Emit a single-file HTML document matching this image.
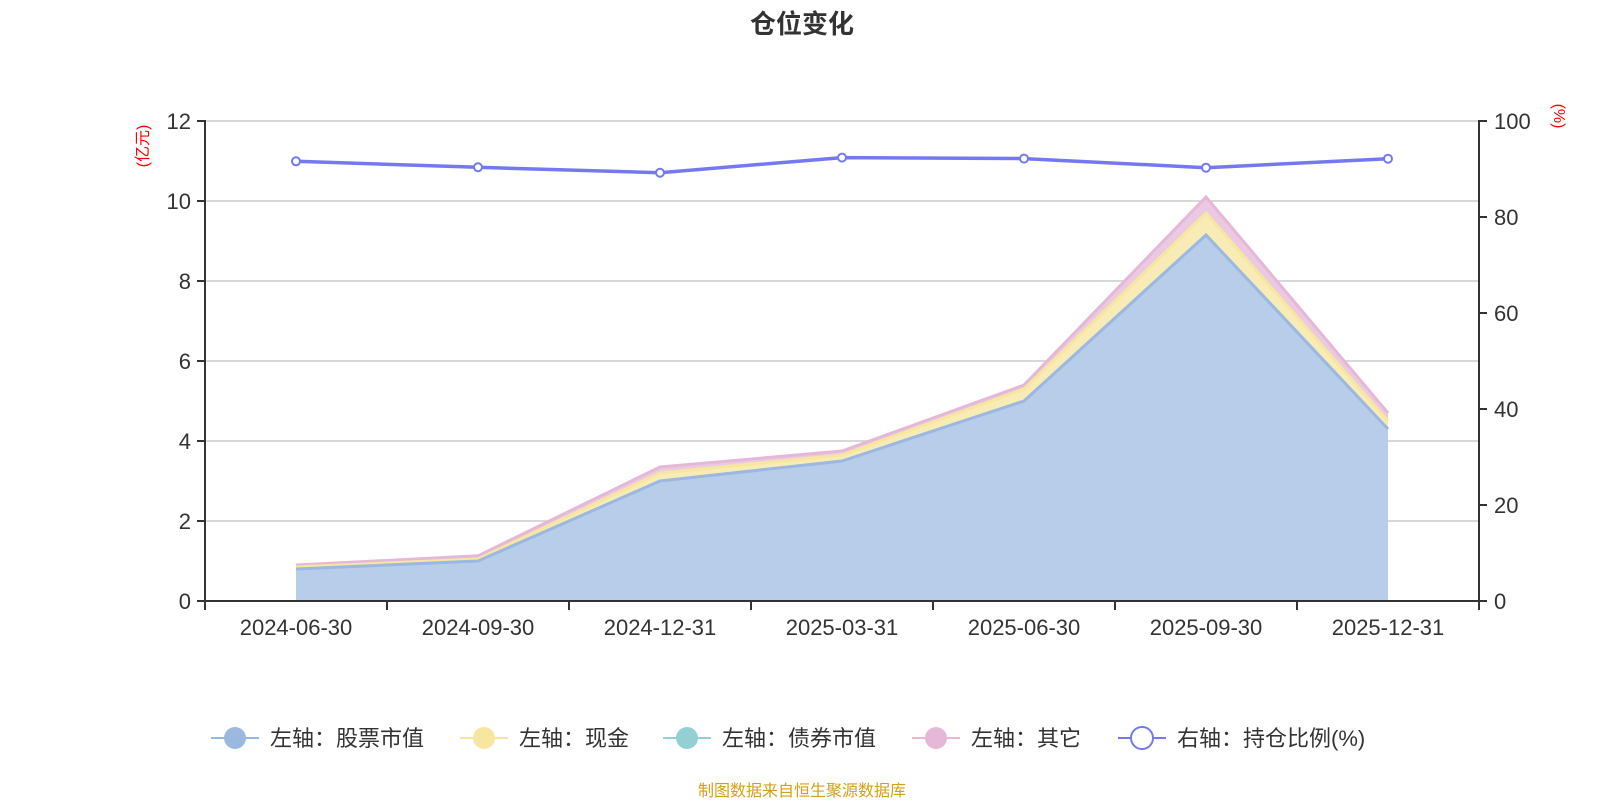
<!DOCTYPE html>
<html><head><meta charset="utf-8"><style>
body{margin:0;background:#fff;}
text{font-family:"Liberation Sans","Noto Sans CJK SC",sans-serif;}
</style></head><body>
<svg width="1600" height="800" xmlns="http://www.w3.org/2000/svg">
<text x="802" y="33" font-size="26" font-weight="bold" fill="#333" text-anchor="middle">仓位变化</text>
<g stroke="#ccc" stroke-width="1.5">
<line x1="205" y1="121" x2="1479" y2="121"/><line x1="205" y1="201" x2="1479" y2="201"/>
<line x1="205" y1="281" x2="1479" y2="281"/><line x1="205" y1="361" x2="1479" y2="361"/>
<line x1="205" y1="441" x2="1479" y2="441"/><line x1="205" y1="521" x2="1479" y2="521"/>
</g>
<polygon fill="#ebc9e2" points="296,565 478,555.8 660,467 842,451 1024,385 1206,197 1388,413 1388,601 296,601"/>
<polygon fill="#f8ebb5" points="296,567 478,559 660,473 842,455 1024,389 1206,213 1388,421 1388,601 296,601"/>
<polygon fill="#b8cde9" points="296,569 478,561 660,481 842,461 1024,401 1206,235 1388,429 1388,601 296,601"/>
<polyline fill="none" stroke="#e6b8d8" stroke-width="3" points="296,565 478,555.8 660,467 842,451 1024,385 1206,197 1388,413"/>
<polyline fill="none" stroke="#f6e69e" stroke-width="3" points="296,567 478,559 660,473 842,455 1024,389 1206,213 1388,421"/>
<polyline fill="none" stroke="#9ab8e0" stroke-width="3" points="296,569 478,561 660,481 842,461 1024,401 1206,235 1388,429"/>
<g stroke="#333" stroke-width="2" fill="none">
<line x1="205" y1="120" x2="205" y2="610"/><line x1="1479" y1="120" x2="1479" y2="610"/>
<line x1="205" y1="601" x2="1479" y2="601"/>
<line x1="197" y1="121" x2="205" y2="121"/><line x1="197" y1="201" x2="205" y2="201"/><line x1="197" y1="281" x2="205" y2="281"/><line x1="197" y1="361" x2="205" y2="361"/><line x1="197" y1="441" x2="205" y2="441"/><line x1="197" y1="521" x2="205" y2="521"/><line x1="197" y1="601" x2="205" y2="601"/>
<line x1="1479" y1="121" x2="1487" y2="121"/><line x1="1479" y1="217" x2="1487" y2="217"/><line x1="1479" y1="313" x2="1487" y2="313"/><line x1="1479" y1="409" x2="1487" y2="409"/><line x1="1479" y1="505" x2="1487" y2="505"/><line x1="1479" y1="601" x2="1487" y2="601"/>
<line x1="387" y1="601" x2="387" y2="610"/><line x1="569" y1="601" x2="569" y2="610"/><line x1="751" y1="601" x2="751" y2="610"/><line x1="933" y1="601" x2="933" y2="610"/><line x1="1115" y1="601" x2="1115" y2="610"/><line x1="1297" y1="601" x2="1297" y2="610"/>
</g>
<g font-size="22" fill="#333" text-anchor="end">
<text x="191" y="129">12</text><text x="191" y="209">10</text><text x="191" y="289">8</text><text x="191" y="369">6</text><text x="191" y="449">4</text><text x="191" y="529">2</text><text x="191" y="609">0</text>
</g>
<g font-size="22" fill="#333">
<text x="1494" y="129">100</text><text x="1494" y="225">80</text><text x="1494" y="321">60</text><text x="1494" y="417">40</text><text x="1494" y="513">20</text><text x="1494" y="609">0</text>
</g>
<g font-size="22" fill="#333" text-anchor="middle">
<text x="296" y="635">2024-06-30</text><text x="478" y="635">2024-09-30</text><text x="660" y="635">2024-12-31</text><text x="842" y="635">2025-03-31</text><text x="1024" y="635">2025-06-30</text><text x="1206" y="635">2025-09-30</text><text x="1388" y="635">2025-12-31</text>
</g>
<text transform="translate(148,146) rotate(-90)" font-size="16" fill="red" text-anchor="middle">(亿元)</text>
<text transform="translate(1554,116) rotate(90)" font-size="16" fill="red" text-anchor="middle">(%)</text>
<polyline fill="none" stroke="#7579f0" stroke-width="3.5" points="296,161.3 478,167.3 660,172.7 842,157.6 1024,158.6 1206,167.7 1388,158.7"/>
<g fill="#fff" stroke="#7579f0" stroke-width="2">
<circle cx="296" cy="161.3" r="4"/><circle cx="478" cy="167.3" r="4"/><circle cx="660" cy="172.7" r="4"/><circle cx="842" cy="157.6" r="4"/><circle cx="1024" cy="158.6" r="4"/><circle cx="1206" cy="167.7" r="4"/><circle cx="1388" cy="158.7" r="4"/>
</g>
<g font-size="22" fill="#333">
<line x1="211" y1="738" x2="259" y2="738" stroke="#9ab8e0" stroke-width="2"/><circle cx="235" cy="738" r="11" fill="#9ab8e0"/><text x="270" y="746">左轴：股票市值</text>
<line x1="460" y1="738" x2="508" y2="738" stroke="#f6e69e" stroke-width="2"/><circle cx="484" cy="738" r="11" fill="#f6e69e"/><text x="519" y="746">左轴：现金</text>
<line x1="663" y1="738" x2="711" y2="738" stroke="#92d0d3" stroke-width="2"/><circle cx="687" cy="738" r="11" fill="#92d0d3"/><text x="722" y="746">左轴：债券市值</text>
<line x1="912" y1="738" x2="960" y2="738" stroke="#e6b8d8" stroke-width="2"/><circle cx="936" cy="738" r="11" fill="#e6b8d8"/><text x="971" y="746">左轴：其它</text>
<line x1="1118" y1="738" x2="1166" y2="738" stroke="#7579f0" stroke-width="2"/><circle cx="1142" cy="738" r="11" fill="#fff" stroke="#7579f0" stroke-width="2"/><text x="1177" y="746">右轴：持仓比例(%)</text>
</g>
<text x="802" y="796" font-size="16" fill="#d4a017" text-anchor="middle">制图数据来自恒生聚源数据库</text>
</svg>
</body></html>
